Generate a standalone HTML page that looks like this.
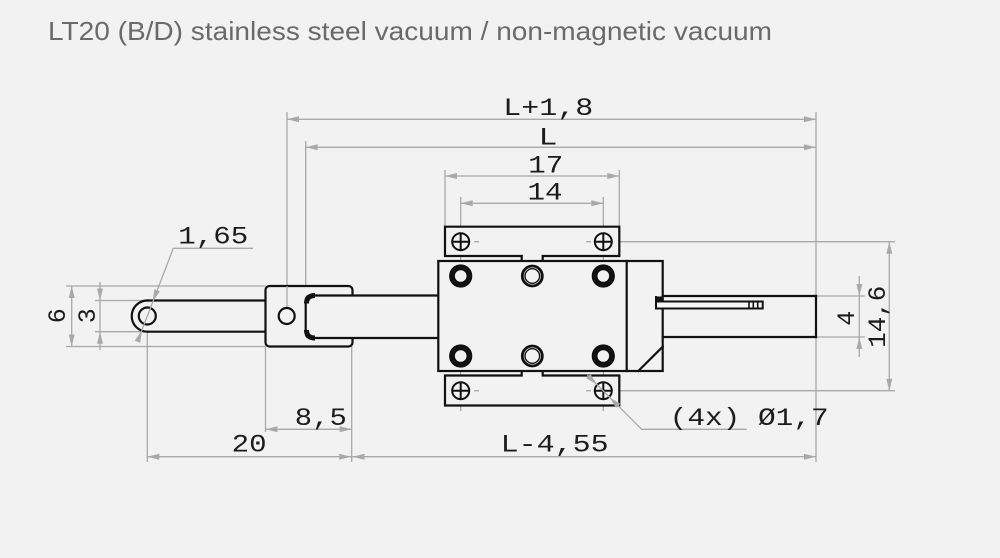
<!DOCTYPE html>
<html>
<head>
<meta charset="utf-8">
<style>
  html, body { margin: 0; padding: 0; background: #f2f2f2; }
  svg { display: block; }
  .k { stroke: #111; stroke-width: 2.2; fill: none; stroke-linecap: square; }
  .kf { stroke: #111; stroke-width: 2.2; fill: #f2f2f2; }
  .g { stroke: #a9a9a9; stroke-width: 1.3; fill: none; }
  .a { fill: #a9a9a9; stroke: none; }
  .t { font-family: "Liberation Mono", "DejaVu Sans Mono", monospace; font-size: 25px; fill: #1c1c1c; }
</style>
</head>
<body>
<svg width="1000" height="558" viewBox="0 0 1000 558" xmlns="http://www.w3.org/2000/svg">
  <rect x="0" y="0" width="1000" height="558" fill="#f2f2f2"/>

  <!-- Title -->
  <text x="48" y="40" font-family="'Liberation Sans', sans-serif" font-size="26" fill="#6a6a6a" textLength="724" lengthAdjust="spacingAndGlyphs">LT20 (B/D) stainless steel vacuum / non-magnetic vacuum</text>

  <!-- ============ GRAY EXTENSION / DIMENSION LINES ============ -->
  <!-- vertical ext lines top -->
  <line class="g" x1="287" y1="112" x2="287" y2="307.5"/>
  <line class="g" x1="305.7" y1="141" x2="305.7" y2="294"/>
  <line class="g" x1="816" y1="112" x2="816" y2="462"/>
  <line class="g" x1="445" y1="170" x2="445" y2="226.7"/>
  <line class="g" x1="619.3" y1="170" x2="619.3" y2="226.7"/>
  <line class="g" x1="460.7" y1="197" x2="460.7" y2="411"/>
  <line class="g" x1="603.3" y1="197" x2="603.3" y2="411"/>

  <!-- horizontal ext lines left -->
  <line class="g" x1="66" y1="286" x2="265.5" y2="286"/>
  <line class="g" x1="66" y1="346.5" x2="265.5" y2="346.5"/>
  <line class="g" x1="95" y1="300.5" x2="150" y2="300.5"/>
  <line class="g" x1="95" y1="331.7" x2="147" y2="331.7"/>
  <!-- right ext lines -->
  <line class="g" x1="816" y1="296" x2="865" y2="296"/>
  <line class="g" x1="816" y1="337" x2="865" y2="337"/>
  <line class="g" x1="612" y1="241.7" x2="895" y2="241.7"/>
  <line class="g" x1="612" y1="390.7" x2="895" y2="390.7"/>
  <!-- bottom ext lines -->
  <line class="g" x1="147.3" y1="333" x2="147.3" y2="462"/>
  <line class="g" x1="265.5" y1="346.5" x2="265.5" y2="432"/>
  <line class="g" x1="351.7" y1="346.5" x2="351.7" y2="462"/>

  <!-- dimension lines -->
  <line class="g" x1="287" y1="119.3" x2="816" y2="119.3"/>
  <line class="g" x1="305.7" y1="147.3" x2="816" y2="147.3"/>
  <line class="g" x1="445" y1="176" x2="619.3" y2="176"/>
  <line class="g" x1="460.7" y1="203.3" x2="603.3" y2="203.3"/>
  <line class="g" x1="71.7" y1="286" x2="71.7" y2="346.5"/>
  <line class="g" x1="100" y1="282" x2="100" y2="350"/>
  <line class="g" x1="859.3" y1="276" x2="859.3" y2="357"/>
  <line class="g" x1="889.3" y1="241.7" x2="889.3" y2="390.7"/>
  <line class="g" x1="265.5" y1="429.3" x2="351.7" y2="429.3"/>
  <line class="g" x1="147.3" y1="456.7" x2="816" y2="456.7"/>

  <!-- ============ BLACK GEOMETRY ============ -->
  <!-- left rod -->
  <line class="k" x1="148" y1="300.5" x2="266" y2="300.5"/>
  <line class="k" x1="148" y1="331.7" x2="266" y2="331.7"/>
  <path class="k" d="M 147.3 300.5 A 15.6 15.6 0 0 0 147.3 331.7"/>
  <circle class="k" cx="147.3" cy="316" r="8.5" stroke-width="2"/>

  <!-- clamp block -->
  <rect class="kf" x="265.5" y="286" width="87" height="60.5" rx="4"/>
  <line class="g" x1="287" y1="286" x2="287" y2="307.5"/>
  <circle class="k" cx="286.7" cy="316" r="8" stroke-width="2"/>

  <!-- middle rod -->
  <path class="kf" d="M 439 295.5 L 311 295.5 Q 305.7 295.5 305.7 301 L 305.7 332.5 Q 305.7 338 311 338 L 439 338"/>
  <path d="M 315 295.5 Q 306.5 295.5 306.5 303.5" stroke="#111" stroke-width="5" fill="none"/>
  <path d="M 315 338 Q 306.5 338 306.5 330" stroke="#111" stroke-width="5" fill="none"/>

  <!-- plates -->
  <path class="kf" d="M 521.7 261 L 521.7 256 L 445 256 L 445 226.7 L 619.3 226.7 L 619.3 256 L 542.7 256 L 542.7 261"/>
  <path class="kf" d="M 521.7 371 L 521.7 375.5 L 445 375.5 L 445 405.5 L 619.3 405.5 L 619.3 375.5 L 542.7 375.5 L 542.7 371"/>
  <!-- carriage -->
  <rect class="kf" x="438.3" y="261" width="224.4" height="110"/>
  <line class="k" x1="626.7" y1="261" x2="626.7" y2="371"/>
  <line class="k" x1="638.3" y1="371" x2="662.7" y2="346.7"/>

  <!-- center marks on plates -->
  <line class="g" x1="474" y1="241.7" x2="479" y2="241.7"/>
  <line class="g" x1="586" y1="241.7" x2="591" y2="241.7"/>
  <line class="g" x1="474" y1="390.7" x2="479" y2="390.7"/>
  <line class="g" x1="586" y1="390.7" x2="591" y2="390.7"/>

  <!-- screws -->
  <g stroke="#111" stroke-width="2" fill="none">
    <circle cx="460.7" cy="241.7" r="8.5"/>
    <line x1="452.2" y1="241.7" x2="469.2" y2="241.7"/>
    <line x1="460.7" y1="233.2" x2="460.7" y2="250.2"/>
    <circle cx="603.3" cy="241.7" r="8.5"/>
    <line x1="594.8" y1="241.7" x2="611.8" y2="241.7"/>
    <line x1="603.3" y1="233.2" x2="603.3" y2="250.2"/>
    <circle cx="460.7" cy="390.7" r="8.5"/>
    <line x1="452.2" y1="390.7" x2="469.2" y2="390.7"/>
    <line x1="460.7" y1="382.2" x2="460.7" y2="399.2"/>
    <circle cx="603.3" cy="390.7" r="8.5"/>
    <line x1="594.8" y1="390.7" x2="611.8" y2="390.7"/>
    <line x1="603.3" y1="382.2" x2="603.3" y2="399.2"/>
  </g>

  <!-- carriage holes -->
  <g stroke="#111" fill="none">
    <circle cx="460.7" cy="276" r="8.7" stroke-width="5.8"/>
    <circle cx="603.3" cy="276" r="8.7" stroke-width="5.8"/>
    <circle cx="460.7" cy="356" r="8.7" stroke-width="5.8"/>
    <circle cx="603.3" cy="356" r="8.7" stroke-width="5.8"/>
    <circle cx="532.3" cy="276" r="10" stroke-width="2.8"/>
    <circle cx="532.3" cy="276" r="7.3" stroke-width="1.4"/>
    <circle cx="532.3" cy="356" r="10" stroke-width="2.8"/>
    <circle cx="532.3" cy="356" r="7.3" stroke-width="1.4"/>
  </g>

  <!-- right rod -->
  <line class="k" x1="662.7" y1="296" x2="816" y2="296"/>
  <line class="k" x1="662.7" y1="337" x2="816" y2="337"/>
  <line class="k" x1="816" y1="296" x2="816" y2="337"/>

  <!-- slot piece -->
  <rect x="656" y="301.5" width="106.7" height="7" fill="#f7f7f7" stroke="#111" stroke-width="2"/>
  <line stroke="#111" stroke-width="2" x1="656" y1="296" x2="656" y2="308.5"/>
  <rect x="656" y="296.5" width="6.5" height="5" fill="#111"/>
  <g stroke="#111" stroke-width="1.6">
    <line x1="749" y1="301.5" x2="749" y2="308.5"/>
    <line x1="753.3" y1="301.5" x2="753.3" y2="308.5"/>
    <line x1="757.7" y1="301.5" x2="757.7" y2="308.5"/>
  </g>

  <!-- ============ LEADERS ============ -->
  <!-- 1,65 -->
  <polyline class="g" points="253,248.3 173.3,248.3 137.5,341.7"/>
  <polygon class="a" points="152.8,301.5 159.9,291.4 154.3,289.2"/>
  <polygon class="a" points="141.8,330.5 140.3,342.8 134.7,340.6"/>

  <!-- (4x) Ø1,7 -->
  <polyline class="g" points="587.3,375 641.7,429.3 746.7,429.3"/>
  <polygon class="a" points="596.9,384.6 590.5,374.0 586.3,378.2"/>
  <polygon class="a" points="609.7,397.4 620.3,403.8 616.1,408.0"/>

  <!-- ============ ARROWHEADS ============ -->
  <g class="a">
    <polygon points="287,119.3 299,116.3 299,122.3"/>
    <polygon points="816,119.3 804,116.3 804,122.3"/>
    <polygon points="305.7,147.3 317.7,144.3 317.7,150.3"/>
    <polygon points="816,147.3 804,144.3 804,150.3"/>
    <polygon points="445,176 457,173 457,179"/>
    <polygon points="619.3,176 607.3,173 607.3,179"/>
    <polygon points="460.7,203.3 472.7,200.3 472.7,206.3"/>
    <polygon points="603.3,203.3 591.3,200.3 591.3,206.3"/>
    <polygon points="265.5,429.3 277.5,426.3 277.5,432.3"/>
    <polygon points="351.7,429.3 339.7,426.3 339.7,432.3"/>
    <polygon points="147.3,456.7 159.3,453.7 159.3,459.7"/>
    <polygon points="351.2,456.7 339.2,453.7 339.2,459.7"/>
    <polygon points="352.5,456.7 364.5,453.7 364.5,459.7"/>
    <polygon points="816,456.7 804,453.7 804,459.7"/>
    <polygon points="71.7,286 68.7,298 74.7,298"/>
    <polygon points="71.7,346.5 68.7,334.5 74.7,334.5"/>
    <polygon points="100,300.5 97,288.5 103,288.5"/>
    <polygon points="100,331.7 97,343.7 103,343.7"/>
    <polygon points="859.3,296 856.3,284 862.3,284"/>
    <polygon points="859.3,337 856.3,349 862.3,349"/>
    <polygon points="889.3,241.7 886.3,253.7 892.3,253.7"/>
    <polygon points="889.3,390.7 886.3,378.7 892.3,378.7"/>
  </g>

  <!-- ============ LABELS ============ -->
  <text class="t" x="548.3" y="115" text-anchor="middle" textLength="90" lengthAdjust="spacingAndGlyphs">L+1,8</text>
  <text class="t" x="548" y="144.3" text-anchor="middle" textLength="19" lengthAdjust="spacingAndGlyphs">L</text>
  <text class="t" x="545.8" y="172.7" text-anchor="middle" textLength="35" lengthAdjust="spacingAndGlyphs">17</text>
  <text class="t" x="545" y="199.3" text-anchor="middle" textLength="35" lengthAdjust="spacingAndGlyphs">14</text>
  <text class="t" x="213.3" y="243.3" text-anchor="middle" textLength="70" lengthAdjust="spacingAndGlyphs">1,65</text>
  <text class="t" x="320.8" y="425" text-anchor="middle" textLength="52" lengthAdjust="spacingAndGlyphs">8,5</text>
  <text class="t" x="249.2" y="451.7" text-anchor="middle" textLength="35" lengthAdjust="spacingAndGlyphs">20</text>
  <text class="t" x="554.7" y="451.7" text-anchor="middle" textLength="108" lengthAdjust="spacingAndGlyphs">L-4,55</text>
  <text class="t" x="749.2" y="425" text-anchor="middle" textLength="159" lengthAdjust="spacingAndGlyphs">(4x) Ø1,7</text>

  <text class="t" transform="translate(56.7,315.7) rotate(-90)" x="0" y="8.3" text-anchor="middle">6</text>
  <text class="t" transform="translate(86.7,315.7) rotate(-90)" x="0" y="8.3" text-anchor="middle">3</text>
  <text class="t" transform="translate(845.8,318.3) rotate(-90)" x="0" y="8.3" text-anchor="middle">4</text>
  <text class="t" transform="translate(876.7,316.7) rotate(-90)" x="0" y="8.3" text-anchor="middle" textLength="62" lengthAdjust="spacingAndGlyphs">14,6</text>
</svg>
</body>
</html>
